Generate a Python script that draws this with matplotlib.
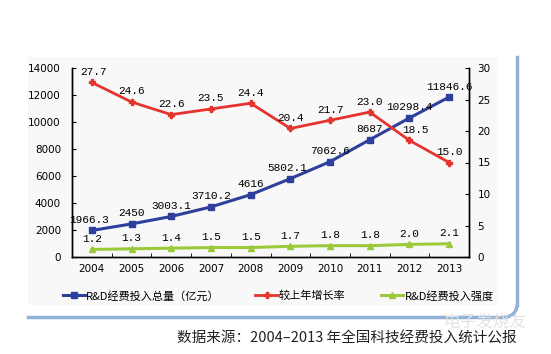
import matplotlib
matplotlib.use("Agg")
import matplotlib.pyplot as plt
from matplotlib.patches import Rectangle, Arc
import numpy as np

years = ['2004', '2005', '2006', '2007', '2008', '2009', '2010', '2011', '2012', '2013']
total = [1966.3, 2450, 3003.1, 3710.2, 4616, 5802.1, 7062.6, 8687, 10298.4, 11846.6]
total_labels = ['1966.3', '2450', '3003.1', '3710.2', '4616', '5802.1', '7062.6', '8687', '10298.4', '11846.6']
growth = [27.7, 24.6, 22.6, 23.5, 24.4, 20.4, 21.7, 23.0, 18.5, 15.0]
intensity = [1.2, 1.3, 1.4, 1.5, 1.5, 1.7, 1.8, 1.8, 2.0, 2.1]

names = ['R&D经费投入总量（亿元）', '较上年增长率', 'R&D经费投入强度']
caption = '数据来源：2004–2013 年全国科技经费投入统计公报'

cjk = ['Noto Sans CJK SC', 'DejaVu Sans']
mono = 'Liberation Mono'
c_blue = '#2e3f9c'
c_red = '#e5332e'
c_green = '#9cc93a'
c_frame = '#8fb0d8'

fig = plt.figure(figsize=(5.51, 3.54), dpi=100)

# background decoration in pixel coordinates
bg = fig.add_axes([0, 0, 1, 1])
bg.set_xlim(0, 551)
bg.set_ylim(354, 0)
bg.axis('off')
bg.add_patch(Rectangle((28, 57), 469, 248, color='#f8f8f8', lw=0))
bg.plot([517, 517], [57, 305], color=c_frame, lw=2.5)
bg.plot([28, 505], [317, 317], color=c_frame, lw=2.5)
bg.add_patch(Arc((505, 305), 24, 24, theta1=0, theta2=90, color=c_frame, lw=2.5))

ax = fig.add_axes([72 / 551, 1 - 257 / 354, 397 / 551, 189 / 354])
ax.set_facecolor('none')
ax2 = ax.twinx()

x = np.arange(len(years))
l1, = ax.plot(x, total, color=c_blue, lw=2.2, marker='s', ms=5, zorder=3)
l2, = ax2.plot(x, growth, color=c_red, lw=2, marker='P', ms=4, zorder=3)
l3, = ax2.plot(x, intensity, color=c_green, lw=2.2, marker='^', ms=4, zorder=3)

ax.set_xlim(-0.5, len(years) - 0.5)
ax.set_ylim(0, 14000)
ax2.set_ylim(0, 30)
ax.set_yticks(np.arange(0, 14001, 2000))
ax2.set_yticks(np.arange(0, 31, 5))
ax.set_xticks(x)
ax.set_xticklabels(years)
ax.set_xticks(np.arange(0.5, len(years) - 1, 1), minor=True)
ax.tick_params(axis='x', which='major', length=0, labelsize=7.5, pad=5)
ax.tick_params(axis='x', which='minor', direction='in', length=3)
ax.tick_params(axis='y', direction='in', length=3, labelsize=7.5, pad=8)
ax2.tick_params(axis='y', direction='in', length=3, labelsize=7.5, pad=6)
for a in (ax, ax2):
    a.spines['top'].set_visible(False)
    for s in ('left', 'right', 'bottom'):
        a.spines[s].set_linewidth(1)

def label(axis, xs, ys, texts, dx=None):
    for i, (xi, yi, t) in enumerate(zip(xs, ys, texts)):
        off = dx[i] if dx else 0
        axis.annotate(t, (xi, yi), xytext=(off, 4), textcoords='offset points',
                      ha='center', va='bottom', fontsize=8, family=mono, zorder=5)

label(ax, x, total, total_labels, dx=[-2, 0, 0, 0, 0, -2, 0, 0, 0, 0])
label(ax2, x, growth, ['%.1f' % v for v in growth], dx=[1, 0, 0, 0, 0, 0, 0, 0, 4, 0])
label(ax2, x, intensity, ['%.1f' % v for v in intensity])

leg = fig.legend([l1, l2, l3], names, loc='center', bbox_to_anchor=(0.505, 1 - 296 / 354),
                 ncol=3, frameon=False, handlelength=2.0, handletextpad=0.1,
                 columnspacing=3.2, prop={'family': cjk, 'size': 8})
for h in leg.legend_handles:
    h.set_markersize(4)

fig.text(347 / 551, 1 - 339 / 354, caption, ha='center', va='center',
         fontsize=10.5, color='#222222', family=cjk)
fig.text(485 / 551, 1 - 322 / 354, '电子发烧友', ha='center', va='center',
         fontsize=12, color='#e4e4e4', family=cjk, style='italic')

fig.savefig('out.png', dpi=100)
